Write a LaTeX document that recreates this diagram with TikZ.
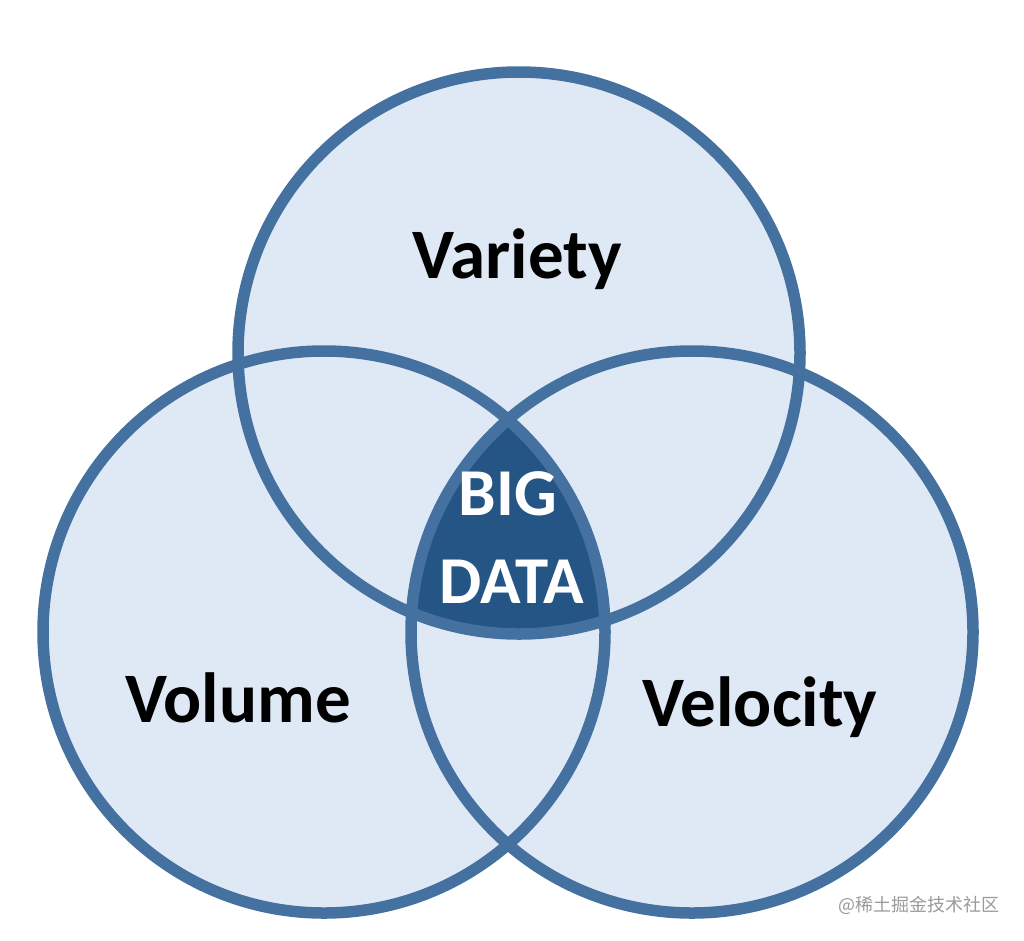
\documentclass[tikz,border=0pt]{standalone}
\usepackage{fontspec}
\setmainfont{Carlito}
\newfontfamily\cjkfont{Noto Sans CJK SC}
\definecolor{ringblue}{HTML}{4471A0}
\definecolor{lightfill}{HTML}{DFE9F6}
\definecolor{darkcore}{HTML}{245585}
\definecolor{wmgray}{HTML}{9A9A9A}
\begin{document}
\begin{tikzpicture}[x=1pt,y=-1pt,
  ring/.style={draw=ringblue, line width=11.5pt},
  label/.style={font=\fontsize{71}{80}\selectfont\bfseries, text=black, inner sep=0pt, anchor=base},
  corelabel/.style={font=\fontsize{67}{72}\selectfont\bfseries, text=white, inner sep=0pt, anchor=base}]
\fill[white] (0,0) rectangle (1024,940);
\useasboundingbox (0,0) rectangle (1024,940);
\coordinate (ctop) at (519,353);
\coordinate (cleft) at (324,632);
\coordinate (cright) at (692,632);
% fills
\fill[lightfill] (ctop) circle[radius=281pt];
\fill[lightfill] (cleft) circle[radius=281pt];
\fill[lightfill] (cright) circle[radius=281pt];
% triple intersection
\begin{scope}
  \clip (ctop) circle[radius=281pt];
  \clip (cleft) circle[radius=281pt];
  \fill[darkcore] (cright) circle[radius=281pt];
\end{scope}
% rings
\draw[ring] (ctop) circle[radius=281pt];
\draw[ring] (cleft) circle[radius=281pt];
\draw[ring] (cright) circle[radius=281pt];
% labels
\node[label] (variety) at (517,278) {Variety};
\node[label] (volume) at (238,722) {Volume};
\node[label] (velocity) at (760,726) {Velocity};
\node[corelabel] (big) at (508,515) {BIG};
\node[corelabel] (data) at (512,603) {DATA};
\node[font=\cjkfont\fontsize{18}{20}\selectfont, text=wmgray, anchor=base west, inner sep=0pt] (wm) at (838,911) {@稀土掘金技术社区};
\end{tikzpicture}
\end{document}
